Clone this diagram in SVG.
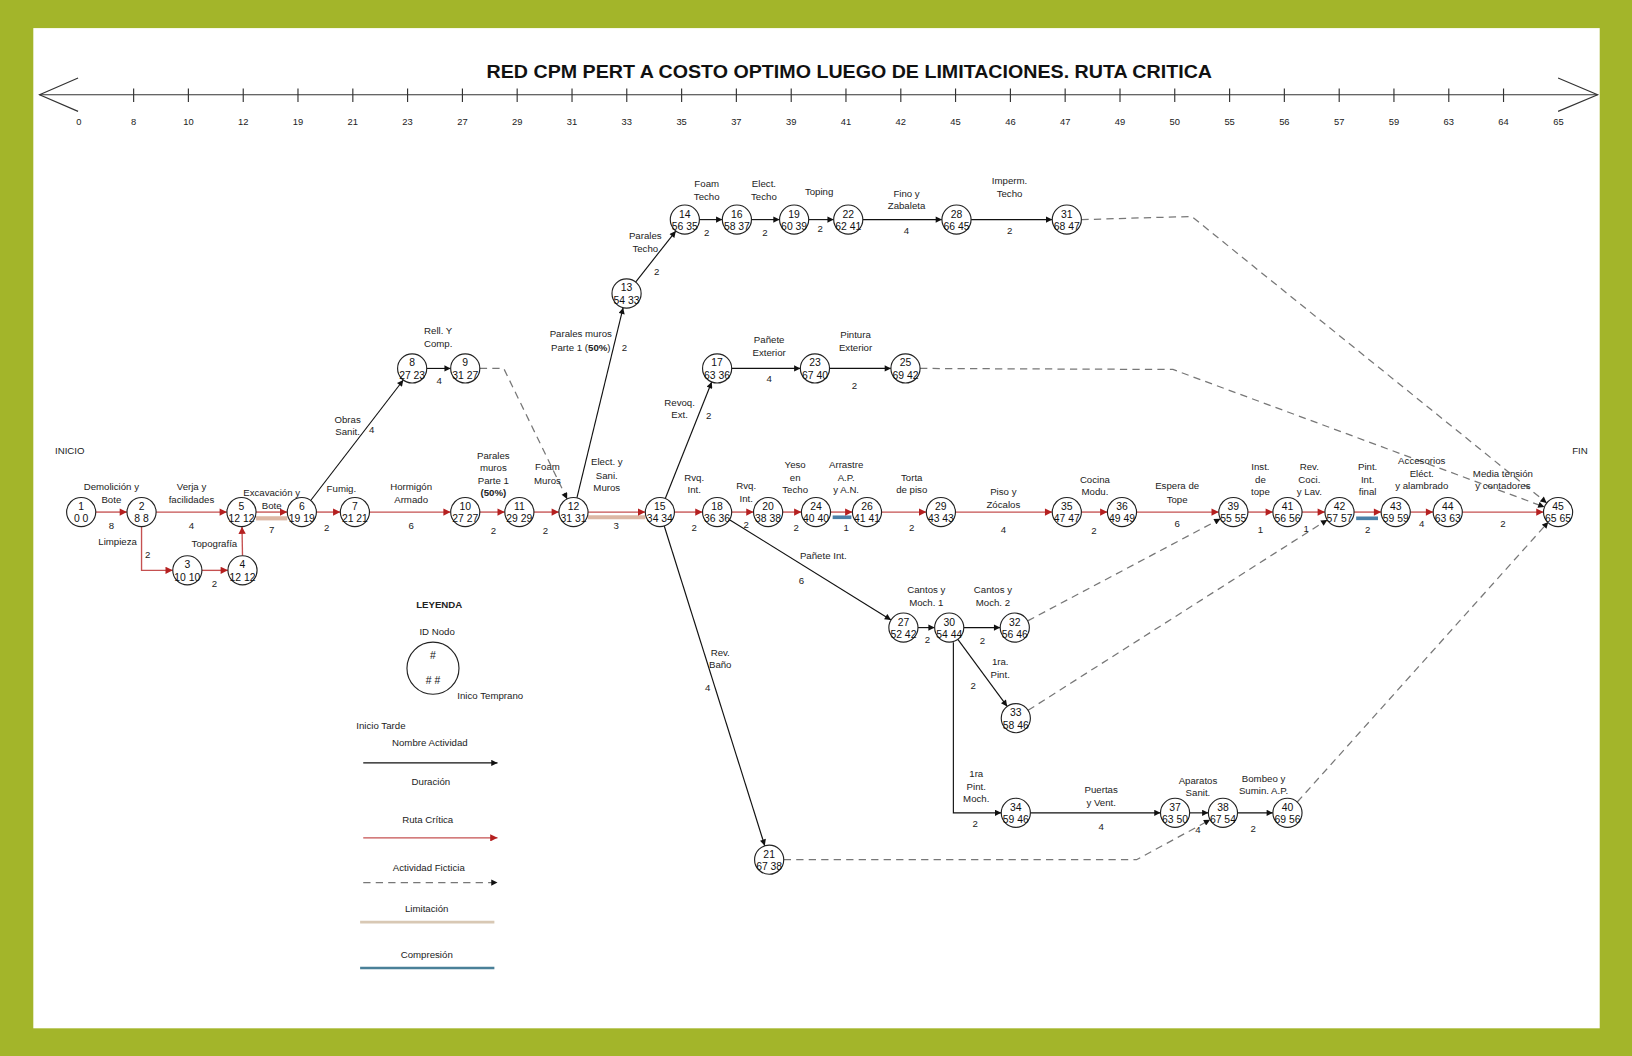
<svg xmlns="http://www.w3.org/2000/svg" width="1632" height="1056" viewBox="0 0 1632 1056">
<defs>
<style>
.nd circle{fill:#fff;stroke:#222;stroke-width:1.1}
.nd text{font-family:"Liberation Sans",Arial,sans-serif;font-size:10px;fill:#111;text-anchor:middle}
.lb{font-family:"Liberation Sans",Arial,sans-serif;font-size:9.3px;fill:#222;text-anchor:middle}
.tk{font-family:"Liberation Sans",Arial,sans-serif;font-size:9px;fill:#222;text-anchor:middle}
.crit{stroke:#c55050;stroke-width:1.3;fill:none;marker-end:url(#ar)}
.norm{stroke:#111;stroke-width:1.1;fill:none;marker-end:url(#ab)}
.dum{stroke:#777;stroke-width:1.2;fill:none;stroke-dasharray:7 5;marker-end:url(#ab)}
.lim{stroke:#dcb7a4;stroke-width:4;fill:none}
.cmp{stroke:#4a80a8;stroke-width:3.5;fill:none}
</style>
<marker id="ar" viewBox="0 0 10 10" refX="10" refY="5" markerWidth="8" markerHeight="7" markerUnits="userSpaceOnUse" orient="auto"><path d="M0,0 L10,5 L0,10 z" fill="#b52020"/></marker>
<marker id="ab" viewBox="0 0 10 10" refX="10" refY="5" markerWidth="7" markerHeight="6" markerUnits="userSpaceOnUse" orient="auto"><path d="M0,0 L10,5 L0,10 z" fill="#111"/></marker>
</defs>
<rect x="0" y="0" width="1632" height="1056" fill="#a3b52a"/>
<g transform="scale(1.0408)">
<rect x="32" y="27" width="1505" height="961" fill="#fff"/>
<text x="816" y="75" font-family="Liberation Sans,Arial,sans-serif" font-size="18" font-weight="bold" text-anchor="middle" textLength="697" lengthAdjust="spacingAndGlyphs" fill="#111">RED CPM PERT A COSTO OPTIMO LUEGO DE LIMITACIONES. RUTA CRITICA</text>
<g id="timeline" stroke="#333" stroke-width="1.1" fill="none">
<line x1="38" y1="91" x2="1535" y2="91"/>
<polyline points="75,75 38,91 75,107"/>
<polyline points="1497,75 1535,91 1497,107"/>
<path d="M128.4,85V98 M181,85V98 M233.7,85V98 M286.3,85V98 M339,85V98 M391.6,85V98 M444.3,85V98 M496.9,85V98 M549.6,85V98 M602.2,85V98 M654.9,85V98 M707.5,85V98 M760.2,85V98 M812.8,85V98 M865.5,85V98 M918.1,85V98 M970.8,85V98 M1023.4,85V98 M1076.1,85V98 M1128.7,85V98 M1181.4,85V98 M1234,85V98 M1286.7,85V98 M1339.3,85V98 M1392,85V98 M1444.6,85V98"/>
</g>
<g id="timeline-labels" class="tk">
<text x="75.8" y="120" class="tk">0</text><text x="128.4" y="120" class="tk">8</text><text x="181" y="120" class="tk">10</text><text x="233.7" y="120" class="tk">12</text><text x="286.3" y="120" class="tk">19</text><text x="339" y="120" class="tk">21</text><text x="391.6" y="120" class="tk">23</text><text x="444.3" y="120" class="tk">27</text><text x="496.9" y="120" class="tk">29</text><text x="549.6" y="120" class="tk">31</text><text x="602.2" y="120" class="tk">33</text><text x="654.9" y="120" class="tk">35</text><text x="707.5" y="120" class="tk">37</text><text x="760.2" y="120" class="tk">39</text><text x="812.8" y="120" class="tk">41</text><text x="865.5" y="120" class="tk">42</text><text x="918.1" y="120" class="tk">45</text><text x="970.8" y="120" class="tk">46</text><text x="1023.4" y="120" class="tk">47</text><text x="1076.1" y="120" class="tk">49</text><text x="1128.7" y="120" class="tk">50</text><text x="1181.4" y="120" class="tk">55</text><text x="1234" y="120" class="tk">56</text><text x="1286.7" y="120" class="tk">57</text><text x="1339.3" y="120" class="tk">59</text><text x="1392" y="120" class="tk">63</text><text x="1444.6" y="120" class="tk">64</text><text x="1497.3" y="120" class="tk">65</text>
</g>
<g id="bands">
<line class="lim" x1="246" y1="498" x2="276" y2="498"/>
<line class="lim" x1="565" y1="497" x2="620" y2="497"/>
<line class="cmp" x1="800" y1="497" x2="818" y2="497"/>
<line class="cmp" x1="1303" y1="498" x2="1324" y2="498"/>
</g>
<g id="connectors">
<line class="crit" x1="92" y1="492" x2="122" y2="492"/>
<line class="crit" x1="150" y1="492" x2="218" y2="492"/>
<path class="crit" d="M136,506 V548 H166"/>
<line class="crit" x1="194" y1="548" x2="219" y2="548"/>
<line class="crit" x1="233" y1="534" x2="232.5" y2="506"/>
<line class="crit" x1="246" y1="492" x2="276" y2="492"/>
<line class="crit" x1="304" y1="492" x2="327" y2="492"/>
<line class="crit" x1="355" y1="492" x2="433" y2="492"/>
<line class="crit" x1="461" y1="492" x2="485" y2="492"/>
<line class="crit" x1="513" y1="492" x2="537" y2="492"/>
<line class="crit" x1="565" y1="492" x2="620" y2="492"/>
<line class="crit" x1="648" y1="492" x2="675" y2="492"/>
<line class="crit" x1="703" y1="492" x2="724" y2="492"/>
<line class="crit" x1="752" y1="492" x2="770" y2="492"/>
<line class="crit" x1="798" y1="492" x2="819" y2="492"/>
<line class="crit" x1="847" y1="492" x2="890" y2="492"/>
<line class="crit" x1="918" y1="492" x2="1011" y2="492"/>
<line class="crit" x1="1039" y1="492" x2="1064" y2="492"/>
<line class="crit" x1="1092" y1="492" x2="1171" y2="492"/>
<line class="crit" x1="1199" y1="492" x2="1223" y2="492"/>
<line class="crit" x1="1251" y1="492" x2="1273" y2="492"/>
<line class="crit" x1="1301" y1="492" x2="1327" y2="492"/>
<line class="crit" x1="1355" y1="492" x2="1377" y2="492"/>
<line class="crit" x1="1405" y1="492" x2="1483" y2="492"/>
<line class="norm" x1="298.5" y1="480.9" x2="387.5" y2="365.1"/>
<line class="norm" x1="410" y1="354" x2="433" y2="354"/>
<line class="norm" x1="554.3" y1="478.4" x2="598.7" y2="295.6"/>
<line class="norm" x1="610.7" y1="271" x2="649.3" y2="222"/>
<line class="norm" x1="672" y1="211" x2="694" y2="211"/>
<line class="norm" x1="722" y1="211" x2="749" y2="211"/>
<line class="norm" x1="777" y1="211" x2="801" y2="211"/>
<line class="norm" x1="829" y1="211" x2="905" y2="211"/>
<line class="norm" x1="933" y1="211" x2="1011" y2="211"/>
<line class="norm" x1="639.2" y1="479" x2="683.8" y2="367"/>
<line class="norm" x1="703" y1="354" x2="769" y2="354"/>
<line class="norm" x1="797" y1="354" x2="856" y2="354"/>
<line class="norm" x1="700.9" y1="499.4" x2="856.1" y2="595.6"/>
<line class="norm" x1="638.2" y1="505.4" x2="734.8" y2="812.6"/>
<line class="norm" x1="882" y1="603" x2="898" y2="603"/>
<line class="norm" x1="926" y1="603" x2="961" y2="603"/>
<line class="norm" x1="920.3" y1="614.3" x2="967.7" y2="678.7"/>
<path class="norm" d="M916,617 V781 H962"/>
<line class="norm" x1="990" y1="781" x2="1115" y2="781"/>
<line class="norm" x1="1143" y1="781" x2="1161" y2="781"/>
<line class="norm" x1="1189" y1="781" x2="1223" y2="781"/>
<path class="dum" d="M461,354 L484,354 L544.9,479.4"/>
<path class="dum" d="M1039,211 L1145,208 L1486.1,483.2"/>
<path class="dum" d="M884,354 L1127,355 L1483.9,487.1"/>
<line class="dum" x1="1246.4" y1="770.6" x2="1487.6" y2="501.6"/>
<path class="dum" d="M753,826 L1092,826 L1162.7,787.7"/>
<line class="dum" x1="987.4" y1="596.5" x2="1172.6" y2="498.5"/>
<line class="dum" x1="987.8" y1="682.5" x2="1275.2" y2="499.5"/>
</g>
<g id="labels" class="lb">
<text class="lb" x="67" y="436">INICIO</text>
<text class="lb" x="1518" y="436">FIN</text>
<text class="lb" x="107" y="471">Demolición y</text><text class="lb" x="107" y="483">Bote</text><text class="lb" x="107" y="508">8</text>
<text class="lb" x="184" y="471">Verja y</text><text class="lb" x="184" y="483">facilidades</text><text class="lb" x="184" y="508">4</text>
<text class="lb" x="113" y="524">Limpieza</text><text class="lb" x="142" y="536">2</text>
<text class="lb" x="206" y="526">Topografía</text><text class="lb" x="206" y="564">2</text>
<text class="lb" x="261" y="477">Excavación y</text><text class="lb" x="261" y="489">Bote</text><text class="lb" x="261" y="512">7</text>
<text class="lb" x="328" y="473">Fumig.</text><text class="lb" x="314" y="510">2</text>
<text class="lb" x="395" y="471">Hormigón</text><text class="lb" x="395" y="483">Armado</text><text class="lb" x="395" y="508">6</text>
<text class="lb" x="474" y="441">Parales</text><text class="lb" x="474" y="453">muros</text><text class="lb" x="474" y="465">Parte 1</text><text class="lb" x="474" y="477" font-weight="bold">(50%)</text><text class="lb" x="474" y="513">2</text>
<text class="lb" x="526" y="452">Foam</text><text class="lb" x="526" y="465">Muros</text><text class="lb" x="524" y="513">2</text>
<text class="lb" x="583" y="447" text-anchor="start">Elect. y</text><text class="lb" x="583" y="460" text-anchor="start">Sani.</text><text class="lb" x="583" y="472" text-anchor="start">Muros</text><text class="lb" x="592" y="508">3</text>
<text class="lb" x="667" y="462">Rvq.</text><text class="lb" x="667" y="474">Int.</text><text class="lb" x="667" y="510">2</text>
<text class="lb" x="717" y="470">Rvq.</text><text class="lb" x="717" y="482">Int.</text><text class="lb" x="717" y="507">2</text>
<text class="lb" x="764" y="450">Yeso</text><text class="lb" x="764" y="462">en</text><text class="lb" x="764" y="474">Techo</text><text class="lb" x="765" y="510">2</text>
<text class="lb" x="813" y="450">Arrastre</text><text class="lb" x="813" y="462">A.P.</text><text class="lb" x="813" y="474">y A.N.</text><text class="lb" x="813" y="510">1</text>
<text class="lb" x="876" y="462">Torta</text><text class="lb" x="876" y="474">de piso</text><text class="lb" x="876" y="510">2</text>
<text class="lb" x="964" y="476">Piso y</text><text class="lb" x="964" y="488">Zócalos</text><text class="lb" x="964" y="512">4</text>
<text class="lb" x="1052" y="464">Cocina</text><text class="lb" x="1052" y="476">Modu.</text><text class="lb" x="1051" y="513">2</text>
<text class="lb" x="1131" y="470">Espera de</text><text class="lb" x="1131" y="483">Tope</text><text class="lb" x="1131" y="506">6</text>
<text class="lb" x="1211" y="452">Inst.</text><text class="lb" x="1211" y="464">de</text><text class="lb" x="1211" y="476">tope</text><text class="lb" x="1211" y="512">1</text>
<text class="lb" x="1258" y="452">Rev.</text><text class="lb" x="1258" y="464">Coci.</text><text class="lb" x="1258" y="476">y Lav.</text><text class="lb" x="1255" y="511">1</text>
<text class="lb" x="1314" y="452">Pint.</text><text class="lb" x="1314" y="464">Int.</text><text class="lb" x="1314" y="476">final</text><text class="lb" x="1314" y="512">2</text>
<text class="lb" x="1366" y="446">Accesorios</text><text class="lb" x="1366" y="458">Eléct.</text><text class="lb" x="1366" y="470">y alambrado</text><text class="lb" x="1366" y="506">4</text>
<text class="lb" x="1444" y="458">Media tensión</text><text class="lb" x="1444" y="470">y contadores</text><text class="lb" x="1444" y="506">2</text>
<text class="lb" x="334" y="406">Obras</text><text class="lb" x="334" y="418">Sanit.</text><text class="lb" x="357" y="416">4</text>
<text class="lb" x="421" y="321">Rell. Y</text><text class="lb" x="421" y="333">Comp.</text><text class="lb" x="422" y="369">4</text>
<text class="lb" x="558" y="324">Parales muros</text><text class="lb" x="558" y="337">Parte 1 (<tspan font-weight="bold">50%</tspan>)</text><text class="lb" x="600" y="337">2</text>
<text class="lb" x="620" y="230">Parales</text><text class="lb" x="620" y="242">Techo</text><text class="lb" x="631" y="264">2</text>
<text class="lb" x="679" y="180">Foam</text><text class="lb" x="679" y="192">Techo</text><text class="lb" x="679" y="227">2</text>
<text class="lb" x="734" y="180">Elect.</text><text class="lb" x="734" y="192">Techo</text><text class="lb" x="735" y="227">2</text>
<text class="lb" x="787" y="187">Toping</text><text class="lb" x="788" y="223">2</text>
<text class="lb" x="871" y="189">Fino y</text><text class="lb" x="871" y="201">Zabaleta</text><text class="lb" x="871" y="225">4</text>
<text class="lb" x="970" y="177">Imperm.</text><text class="lb" x="970" y="189">Techo</text><text class="lb" x="970" y="225">2</text>
<text class="lb" x="653" y="390">Revoq.</text><text class="lb" x="653" y="402">Ext.</text><text class="lb" x="681" y="403">2</text>
<text class="lb" x="739" y="330">Pañete</text><text class="lb" x="739" y="342">Exterior</text><text class="lb" x="739" y="367">4</text>
<text class="lb" x="822" y="325">Pintura</text><text class="lb" x="822" y="337">Exterior</text><text class="lb" x="821" y="374">2</text>
<text class="lb" x="791" y="537">Pañete Int.</text><text class="lb" x="770" y="561">6</text>
<text class="lb" x="692" y="630">Rev.</text><text class="lb" x="692" y="642">Baño</text><text class="lb" x="680" y="664">4</text>
<text class="lb" x="890" y="570">Cantos y</text><text class="lb" x="890" y="582">Moch. 1</text><text class="lb" x="891" y="618">2</text>
<text class="lb" x="954" y="570">Cantos y</text><text class="lb" x="954" y="582">Moch. 2</text><text class="lb" x="944" y="619">2</text>
<text class="lb" x="961" y="639">1ra.</text><text class="lb" x="961" y="651">Pint.</text><text class="lb" x="935" y="662">2</text>
<text class="lb" x="938" y="747">1ra</text><text class="lb" x="938" y="759">Pint.</text><text class="lb" x="938" y="771">Moch.</text><text class="lb" x="937" y="795">2</text>
<text class="lb" x="1058" y="762">Puertas</text><text class="lb" x="1058" y="774">y Vent.</text><text class="lb" x="1058" y="797">4</text>
<text class="lb" x="1151" y="753">Aparatos</text><text class="lb" x="1151" y="765">Sanit.</text><text class="lb" x="1151" y="800">4</text>
<text class="lb" x="1214" y="751">Bombeo y</text><text class="lb" x="1214" y="763">Sumin. A.P.</text><text class="lb" x="1204" y="799">2</text>
</g>
<g id="n1" class="nd"><circle cx="78" cy="492" r="14"/><text x="78" y="490">1</text><text x="78" y="502">0 0</text></g>
<g id="n2" class="nd"><circle cx="136" cy="492" r="14"/><text x="136" y="490">2</text><text x="136" y="502">8 8</text></g>
<g id="n3" class="nd"><circle cx="180" cy="548" r="14"/><text x="180" y="546">3</text><text x="180" y="558">10 10</text></g>
<g id="n4" class="nd"><circle cx="233" cy="548" r="14"/><text x="233" y="546">4</text><text x="233" y="558">12 12</text></g>
<g id="n5" class="nd"><circle cx="232" cy="492" r="14"/><text x="232" y="490">5</text><text x="232" y="502">12 12</text></g>
<g id="n6" class="nd"><circle cx="290" cy="492" r="14"/><text x="290" y="490">6</text><text x="290" y="502">19 19</text></g>
<g id="n7" class="nd"><circle cx="341" cy="492" r="14"/><text x="341" y="490">7</text><text x="341" y="502">21 21</text></g>
<g id="n8" class="nd"><circle cx="396" cy="354" r="14"/><text x="396" y="352">8</text><text x="396" y="364">27 23</text></g>
<g id="n9" class="nd"><circle cx="447" cy="354" r="14"/><text x="447" y="352">9</text><text x="447" y="364">31 27</text></g>
<g id="n10" class="nd"><circle cx="447" cy="492" r="14"/><text x="447" y="490">10</text><text x="447" y="502">27 27</text></g>
<g id="n11" class="nd"><circle cx="499" cy="492" r="14"/><text x="499" y="490">11</text><text x="499" y="502">29 29</text></g>
<g id="n12" class="nd"><circle cx="551" cy="492" r="14"/><text x="551" y="490">12</text><text x="551" y="502">31 31</text></g>
<g id="n13" class="nd"><circle cx="602" cy="282" r="14"/><text x="602" y="280">13</text><text x="602" y="292">54 33</text></g>
<g id="n14" class="nd"><circle cx="658" cy="211" r="14"/><text x="658" y="209">14</text><text x="658" y="221">56 35</text></g>
<g id="n15" class="nd"><circle cx="634" cy="492" r="14"/><text x="634" y="490">15</text><text x="634" y="502">34 34</text></g>
<g id="n16" class="nd"><circle cx="708" cy="211" r="14"/><text x="708" y="209">16</text><text x="708" y="221">58 37</text></g>
<g id="n17" class="nd"><circle cx="689" cy="354" r="14"/><text x="689" y="352">17</text><text x="689" y="364">63 36</text></g>
<g id="n18" class="nd"><circle cx="689" cy="492" r="14"/><text x="689" y="490">18</text><text x="689" y="502">36 36</text></g>
<g id="n19" class="nd"><circle cx="763" cy="211" r="14"/><text x="763" y="209">19</text><text x="763" y="221">60 39</text></g>
<g id="n20" class="nd"><circle cx="738" cy="492" r="14"/><text x="738" y="490">20</text><text x="738" y="502">38 38</text></g>
<g id="n21" class="nd"><circle cx="739" cy="826" r="14"/><text x="739" y="824">21</text><text x="739" y="836">67 38</text></g>
<g id="n22" class="nd"><circle cx="815" cy="211" r="14"/><text x="815" y="209">22</text><text x="815" y="221">62 41</text></g>
<g id="n23" class="nd"><circle cx="783" cy="354" r="14"/><text x="783" y="352">23</text><text x="783" y="364">67 40</text></g>
<g id="n24" class="nd"><circle cx="784" cy="492" r="14"/><text x="784" y="490">24</text><text x="784" y="502">40 40</text></g>
<g id="n25" class="nd"><circle cx="870" cy="354" r="14"/><text x="870" y="352">25</text><text x="870" y="364">69 42</text></g>
<g id="n26" class="nd"><circle cx="833" cy="492" r="14"/><text x="833" y="490">26</text><text x="833" y="502">41 41</text></g>
<g id="n27" class="nd"><circle cx="868" cy="603" r="14"/><text x="868" y="601">27</text><text x="868" y="613">52 42</text></g>
<g id="n28" class="nd"><circle cx="919" cy="211" r="14"/><text x="919" y="209">28</text><text x="919" y="221">66 45</text></g>
<g id="n29" class="nd"><circle cx="904" cy="492" r="14"/><text x="904" y="490">29</text><text x="904" y="502">43 43</text></g>
<g id="n30" class="nd"><circle cx="912" cy="603" r="14"/><text x="912" y="601">30</text><text x="912" y="613">54 44</text></g>
<g id="n31" class="nd"><circle cx="1025" cy="211" r="14"/><text x="1025" y="209">31</text><text x="1025" y="221">68 47</text></g>
<g id="n32" class="nd"><circle cx="975" cy="603" r="14"/><text x="975" y="601">32</text><text x="975" y="613">56 46</text></g>
<g id="n33" class="nd"><circle cx="976" cy="690" r="14"/><text x="976" y="688">33</text><text x="976" y="700">58 46</text></g>
<g id="n34" class="nd"><circle cx="976" cy="781" r="14"/><text x="976" y="779">34</text><text x="976" y="791">59 46</text></g>
<g id="n35" class="nd"><circle cx="1025" cy="492" r="14"/><text x="1025" y="490">35</text><text x="1025" y="502">47 47</text></g>
<g id="n36" class="nd"><circle cx="1078" cy="492" r="14"/><text x="1078" y="490">36</text><text x="1078" y="502">49 49</text></g>
<g id="n37" class="nd"><circle cx="1129" cy="781" r="14"/><text x="1129" y="779">37</text><text x="1129" y="791">63 50</text></g>
<g id="n38" class="nd"><circle cx="1175" cy="781" r="14"/><text x="1175" y="779">38</text><text x="1175" y="791">67 54</text></g>
<g id="n39" class="nd"><circle cx="1185" cy="492" r="14"/><text x="1185" y="490">39</text><text x="1185" y="502">55 55</text></g>
<g id="n40" class="nd"><circle cx="1237" cy="781" r="14"/><text x="1237" y="779">40</text><text x="1237" y="791">69 56</text></g>
<g id="n41" class="nd"><circle cx="1237" cy="492" r="14"/><text x="1237" y="490">41</text><text x="1237" y="502">56 56</text></g>
<g id="n42" class="nd"><circle cx="1287" cy="492" r="14"/><text x="1287" y="490">42</text><text x="1287" y="502">57 57</text></g>
<g id="n43" class="nd"><circle cx="1341" cy="492" r="14"/><text x="1341" y="490">43</text><text x="1341" y="502">59 59</text></g>
<g id="n44" class="nd"><circle cx="1391" cy="492" r="14"/><text x="1391" y="490">44</text><text x="1391" y="502">63 63</text></g>
<g id="n45" class="nd"><circle cx="1497" cy="492" r="14"/><text x="1497" y="490">45</text><text x="1497" y="502">65 65</text></g>
<g id="legend">
<text class="lb" x="422" y="584" font-weight="bold">LEYENDA</text>
<text class="lb" x="420" y="610">ID Nodo</text>
<g class="nd"><circle cx="416" cy="642" r="25"/><text x="416" y="633">#</text><text x="416" y="657"># #</text></g>
<text class="lb" x="471" y="672">Inico Temprano</text>
<text class="lb" x="366" y="700">Inicio Tarde</text>
<text class="lb" x="413" y="717">Nombre Actividad</text>
<line class="norm" x1="349" y1="733" x2="478" y2="733"/>
<text class="lb" x="414" y="754">Duración</text>
<text class="lb" x="411" y="791">Ruta Crítica</text>
<line class="crit" x1="349" y1="805" x2="478" y2="805"/>
<text class="lb" x="412" y="837">Actividad Ficticia</text>
<line class="dum" x1="349" y1="848" x2="478" y2="848"/>
<text class="lb" x="410" y="876">Limitación</text>
<line x1="346" y1="886" x2="475" y2="886" stroke="#d8c8b4" stroke-width="2.5"/>
<text class="lb" x="410" y="920">Compresión</text>
<line x1="346" y1="930" x2="475" y2="930" stroke="#4a8098" stroke-width="2.5"/>
</g>
</g>
</svg>
